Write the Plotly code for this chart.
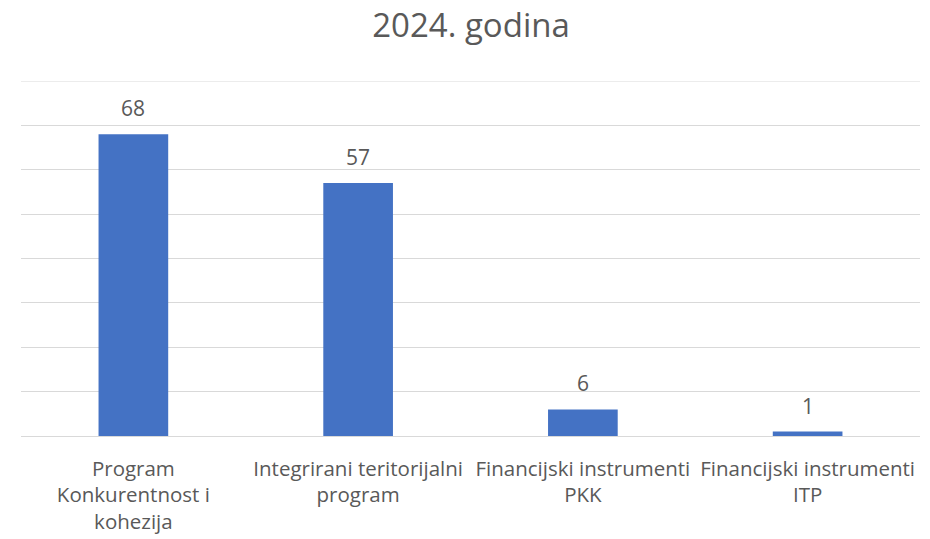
import plotly.graph_objects as go

categories = ["Program<br>Konkurentnost i<br>kohezija",
              "Integrirani teritorijalni<br>program",
              "Financijski instrumenti<br>PKK",
              "Financijski instrumenti<br>ITP"]
values = [68, 57, 6, 1]
y_max = 80
y_step = 10

txt = "#595959"
fnt = "Open Sans"
grid = "#d9d9d9"
fig = go.Figure(go.Bar(
    x=categories, y=values, marker=dict(color="#4472C4", line=dict(width=0)),
    width=0.31, hoverinfo="skip",
))
for c, v in zip(categories, values):
    fig.add_annotation(x=c, y=v, text=str(v), showarrow=False, yanchor="middle",
                       yshift=26, font=dict(size=21, color=txt, family=fnt))
fig.add_shape(type="line", xref="paper", yref="y", x0=0, x1=1, y0=y_max, y1=y_max,
              line=dict(color=grid, width=1), layer="below")
fig.update_layout(
    width=930, height=539,
    margin=dict(l=21, r=10, t=81, b=103, autoexpand=False),
    paper_bgcolor="white", plot_bgcolor="white",
    font=dict(family=fnt, color=txt, size=20.5),
    title=dict(text="2024. godina", x=0.5065, xanchor="center", y=0.953, yanchor="middle",
               font=dict(size=33, color=txt, family=fnt)),
    showlegend=False,
)
fig.update_yaxes(range=[0, y_max], dtick=y_step, showticklabels=False, gridcolor=grid,
                 gridwidth=1, zeroline=False, showline=False, fixedrange=True, automargin=False)
fig.update_xaxes(showline=True, linecolor=grid, linewidth=1, ticks="outside",
                 ticklen=14, tickcolor="rgba(0,0,0,0)", tickfont=dict(size=20.5, color=txt),
                 automargin=False, fixedrange=True)
fig.write_html("out.html", config={"displayModeBar": False},
               post_script="document.body.style.margin='0';")
